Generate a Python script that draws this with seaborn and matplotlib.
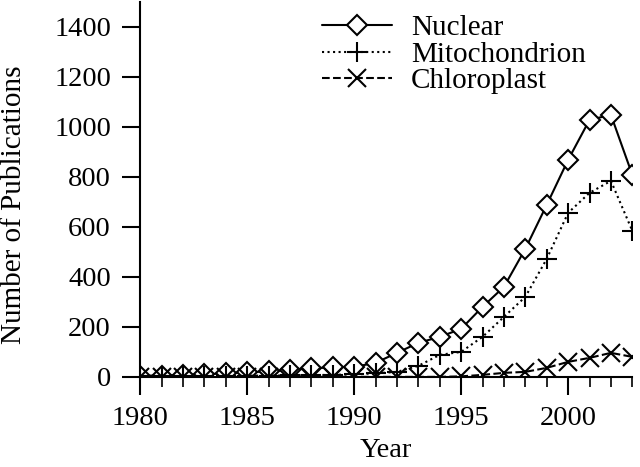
import numpy as np
import pandas as pd
import seaborn as sns
import matplotlib.pyplot as plt
from matplotlib.ticker import MultipleLocator

# values
years = list(range(1980, 2004))
nuclear = [5, 5, 8, 10, 14, 18, 22, 28, 34, 38, 40, 56, 96, 136, 160, 192,
           280, 360, 512, 688, 868, 1028, 1048, 808]
mitochondrion = [2, 2, 3, 3, 4, 5, 5, 6, 7, 8, 10, 14, 20, 44, 88, 100,
                 160, 240, 320, 472, 656, 736, 784, 584]
chloroplast = [0, 0, 0, 0, 0, 0, 0, 0, 0, 0, 0, 0, 0, 0, 0, 2,
               8, 16, 20, 36, 60, 76, 96, 80]

sns.set_theme(style="ticks")
plt.rcParams['font.family'] = ['Liberation Serif', 'DejaVu Serif']

fig = plt.figure(figsize=(6.4, 4.67), dpi=100)
ax = fig.add_axes([0.219, 0.193, 0.769, 0.803])

series = [("Nuclear", nuclear, "-", "D", 10.5, "white"),
          ("Mitochondrion", mitochondrion, ":", "+", 14, "none"),
          ("Chloroplast", chloroplast, "--", "x", 12.5, "none")]
for name, vals, ls, mk, ms, fc in series:
    sns.lineplot(x=years, y=vals, ax=ax, color="black", linestyle=ls, marker=mk,
                 markersize=ms, markerfacecolor=fc, markeredgecolor="black",
                 markeredgewidth=1.5, linewidth=1.5, label=name)

ax.set_xlim(1980, 2003)
ax.set_ylim(0, 1500)
ax.xaxis.set_major_locator(MultipleLocator(5))
ax.xaxis.set_minor_locator(MultipleLocator(1))
ax.set_yticks(range(0, 1401, 200))
ax.tick_params(axis="both", which="major", direction="out", length=13, width=1.5,
               labelsize=20.5, color="black", labelcolor="black")
ax.tick_params(axis="x", which="major", pad=8)
ax.tick_params(axis="y", which="major", pad=8)
ax.tick_params(axis="x", which="minor", direction="out", length=7, width=1.2, color="black")
sns.despine(ax=ax)
for s in ["left", "bottom"]:
    ax.spines[s].set_linewidth(1.5)
    ax.spines[s].set_color("black")

ax.set_xlabel("Year", fontsize=20.5, color="black")
ax.set_ylabel("Number of Publications", fontsize=21, color="black")
ax.xaxis.set_label_coords(0.5, -0.163)
ax.yaxis.set_label_coords(-0.23, 0.46)

leg = ax.legend(loc="upper left", bbox_to_anchor=(0.37, 0.965), frameon=False,
                fontsize=21, handlelength=2.4, handletextpad=0.65,
                labelspacing=0.0, borderaxespad=0, borderpad=0)
for t in leg.get_texts():
    t.set_color("black")

fig.savefig("out.png", dpi=100)
